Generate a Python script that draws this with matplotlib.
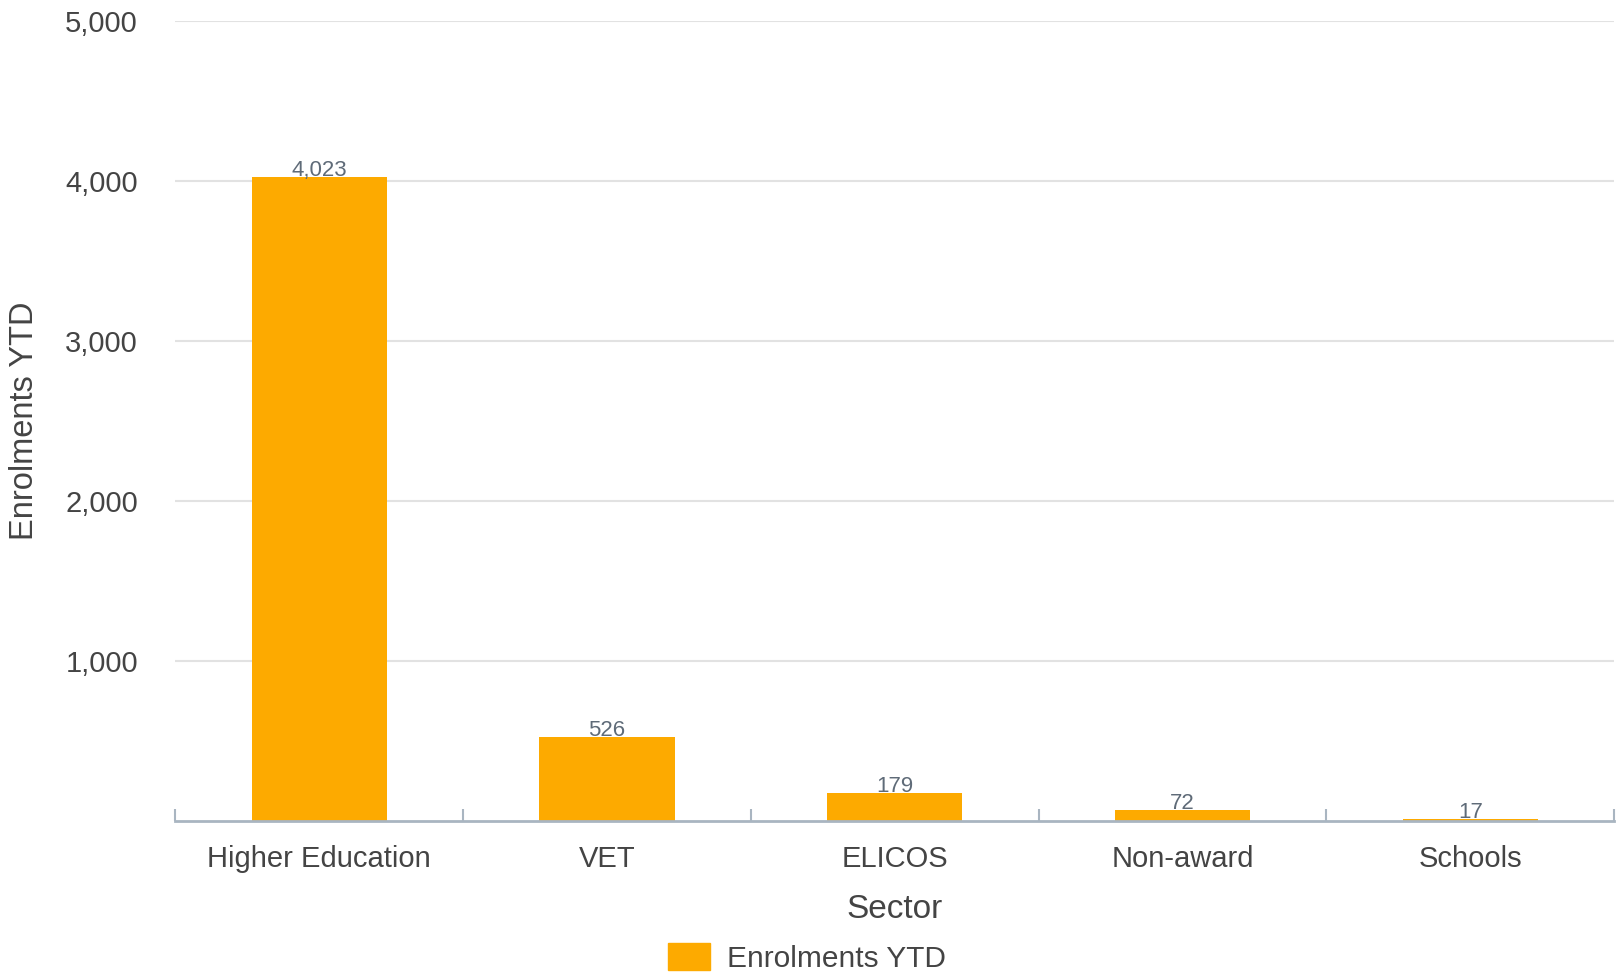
import matplotlib.pyplot as plt
import matplotlib.patches as mpatches
import numpy as np

plt.rcParams['font.family'] = ['Liberation Sans', 'DejaVu Sans']

sectors = ['Higher Education', 'VET', 'ELICOS', 'Non-award', 'Schools']
enrolments = [4023, 526, 179, 72, 17]
y_ticks = [1000, 2000, 3000, 4000, 5000]

bar_color = '#FDAA00'
text_color = '#444444'
label_color = '#5F6B78'

fig = plt.figure(figsize=(16.24, 9.80), dpi=100)
ax = fig.add_axes([0.108, 0.162, 0.886, 0.817])

x = np.arange(len(sectors))
bars = ax.bar(x, enrolments, width=0.47, color=bar_color, zorder=3)

for xi, v in zip(x, enrolments):
    ax.annotate(f'{v:,}', (xi, v), xytext=(0, -3), textcoords='offset points',
                ha='center', va='bottom', fontsize=16, color=label_color, zorder=4)

ax.set_xlim(-0.5, len(sectors) - 0.5)
ax.set_ylim(0, 5000)
ax.set_yticks(y_ticks)
ax.set_yticklabels([f'{t:,}' for t in y_ticks])
ax.grid(axis='y', color='#E2E2E2', linewidth=1.5, zorder=0)

ax.set_xticks(x)
ax.set_xticklabels(sectors)
ax.set_xticks(np.arange(-0.5, len(sectors)), minor=True)
ax.tick_params(axis='x', which='major', length=0, pad=17, labelsize=21, labelcolor=text_color)
ax.tick_params(axis='x', which='minor', direction='in', length=9, width=1.5, color='#A9B5C1')
ax.tick_params(axis='y', length=0, pad=27, labelsize=21, labelcolor=text_color)

for side in ['top', 'right', 'left']:
    ax.spines[side].set_visible(False)
ax.spines['bottom'].set_color('#A9B5C1')
ax.spines['bottom'].set_linewidth(2)
ax.spines['bottom'].set_zorder(5)

ax.set_xlabel('Sector', fontsize=24, color=text_color, labelpad=15)
ax.set_ylabel('Enrolments YTD', fontsize=23.5, color=text_color, labelpad=18)

handle = mpatches.Patch(color=bar_color, label='Enrolments YTD')
fig.legend(handles=[handle], loc='lower center', bbox_to_anchor=(0.497, -0.008),
           frameon=False, fontsize=21.5, handlelength=1.4, handleheight=1.0,
           handletextpad=0.6, labelcolor=text_color, borderaxespad=0.1)

fig.savefig('out.png', dpi=100)
